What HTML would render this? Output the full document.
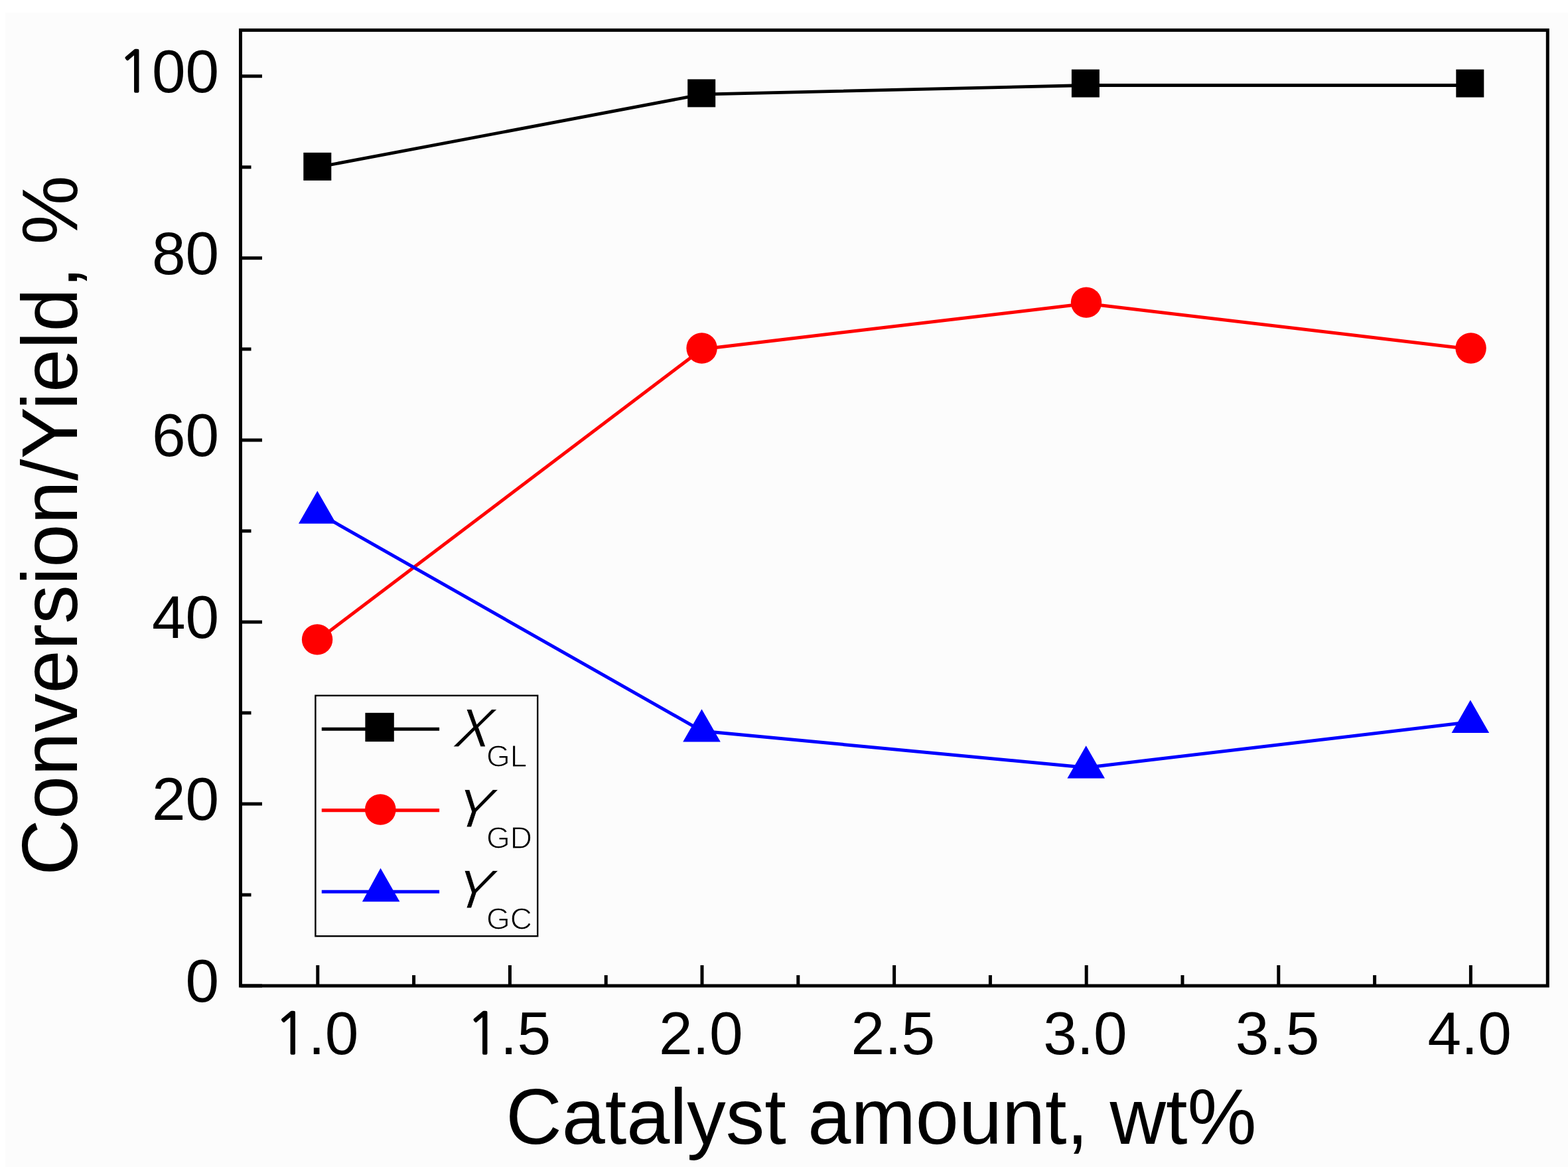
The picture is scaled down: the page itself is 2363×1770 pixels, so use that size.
<!DOCTYPE html>
<html><head><meta charset="utf-8"><title>Conversion/Yield vs Catalyst amount</title>
<style>
html,body{margin:0;padding:0;background:#fff;}
body{width:2363px;height:1770px;overflow:hidden;}
svg{display:block;}
text{font-family:"Liberation Sans",Arial,sans-serif;fill:#000;}
</style></head><body>
<svg width="2363" height="1770" viewBox="0 0 2363 1770">
<rect x="0" y="0" width="2363" height="1770" fill="#fff"/>
<rect x="8" y="19" width="2355" height="1739" fill="#fcfcfc"/>

<polyline points="478.8,251.8 1058.0,142.2 1637.2,128.5 2216.4,128.5" fill="none" stroke="#000" stroke-width="4.8" stroke-linejoin="round"/>
<polyline points="478.8,964.3 1058.0,525.9 1637.2,457.3 2216.4,525.9" fill="none" stroke="#f00" stroke-width="5" stroke-linejoin="round"/>
<polyline points="478.8,772.5 1058.0,1101.3 1637.2,1156.2 2216.4,1087.6" fill="none" stroke="#00f" stroke-width="5" stroke-linejoin="round"/>
<rect x="457.3" y="229.9" width="42" height="42" fill="#000"/>
<rect x="1036.2" y="119.4" width="42" height="42" fill="#000"/>
<rect x="1614.9" y="104.6" width="42" height="42" fill="#000"/>
<rect x="2194.3" y="104.6" width="42" height="42" fill="#000"/>
<circle cx="478.1" cy="963.4" r="23.2" fill="#f00"/>
<circle cx="1057.6" cy="524.5" r="23.2" fill="#f00"/>
<circle cx="1637.0" cy="455.6" r="23.2" fill="#f00"/>
<circle cx="2216.6" cy="524.5" r="23.2" fill="#f00"/>
<polygon points="478.3,739.5 506.6,788.8 450.0,788.8" fill="#00f"/>
<polygon points="1057.5,1068.3 1085.8,1117.6 1029.2,1117.6" fill="#00f"/>
<polygon points="1636.7,1123.2 1665.0,1172.5 1608.4,1172.5" fill="#00f"/>
<polygon points="2215.9,1054.6 2244.2,1103.9 2187.6,1103.9" fill="#00f"/>
<rect x="362.5" y="45.4" width="1969.8" height="1439.6" fill="none" stroke="#000" stroke-width="5"/>
<line x1="362.5" y1="1485.0" x2="395.0" y2="1485.0" stroke="#000" stroke-width="5"/>
<line x1="362.5" y1="1348.0" x2="378.5" y2="1348.0" stroke="#000" stroke-width="5"/>
<line x1="362.5" y1="1211.0" x2="395.0" y2="1211.0" stroke="#000" stroke-width="5"/>
<line x1="362.5" y1="1073.9" x2="378.5" y2="1073.9" stroke="#000" stroke-width="5"/>
<line x1="362.5" y1="936.9" x2="395.0" y2="936.9" stroke="#000" stroke-width="5"/>
<line x1="362.5" y1="799.9" x2="378.5" y2="799.9" stroke="#000" stroke-width="5"/>
<line x1="362.5" y1="662.9" x2="395.0" y2="662.9" stroke="#000" stroke-width="5"/>
<line x1="362.5" y1="525.9" x2="378.5" y2="525.9" stroke="#000" stroke-width="5"/>
<line x1="362.5" y1="388.8" x2="395.0" y2="388.8" stroke="#000" stroke-width="5"/>
<line x1="362.5" y1="251.8" x2="378.5" y2="251.8" stroke="#000" stroke-width="5"/>
<line x1="362.5" y1="114.8" x2="395.0" y2="114.8" stroke="#000" stroke-width="5"/>
<line x1="478.8" y1="1485.0" x2="478.8" y2="1454.0" stroke="#000" stroke-width="5"/>
<line x1="623.6" y1="1485.0" x2="623.6" y2="1469.0" stroke="#000" stroke-width="5"/>
<line x1="768.4" y1="1485.0" x2="768.4" y2="1454.0" stroke="#000" stroke-width="5"/>
<line x1="913.2" y1="1485.0" x2="913.2" y2="1469.0" stroke="#000" stroke-width="5"/>
<line x1="1058.0" y1="1485.0" x2="1058.0" y2="1454.0" stroke="#000" stroke-width="5"/>
<line x1="1202.8" y1="1485.0" x2="1202.8" y2="1469.0" stroke="#000" stroke-width="5"/>
<line x1="1347.6" y1="1485.0" x2="1347.6" y2="1454.0" stroke="#000" stroke-width="5"/>
<line x1="1492.4" y1="1485.0" x2="1492.4" y2="1469.0" stroke="#000" stroke-width="5"/>
<line x1="1637.2" y1="1485.0" x2="1637.2" y2="1454.0" stroke="#000" stroke-width="5"/>
<line x1="1782.0" y1="1485.0" x2="1782.0" y2="1469.0" stroke="#000" stroke-width="5"/>
<line x1="1926.8" y1="1485.0" x2="1926.8" y2="1454.0" stroke="#000" stroke-width="5"/>
<line x1="2071.6" y1="1485.0" x2="2071.6" y2="1469.0" stroke="#000" stroke-width="5"/>
<line x1="2216.4" y1="1485.0" x2="2216.4" y2="1454.0" stroke="#000" stroke-width="5"/>
<text x="279.6" y="1509.4" font-size="91">0</text>
<text x="229.0" y="1235.4" font-size="91">20</text>
<text x="229.0" y="961.3" font-size="91">40</text>
<text x="229.0" y="687.3" font-size="91">60</text>
<text x="229.0" y="413.2" font-size="91">80</text>
<text y="139.2" font-size="91"><tspan x="176.9" font-family="NanumGothic,&quot;Liberation Sans&quot;,sans-serif" font-size="86" stroke="#000" stroke-width="1.5">1</tspan><tspan x="229.0">00</tspan></text>
<text y="1587.5" font-size="91"><tspan x="412.4" font-family="NanumGothic,&quot;Liberation Sans&quot;,sans-serif" font-size="86" stroke="#000" stroke-width="1.5">1</tspan><tspan x="464.5">.0</tspan></text>
<text y="1587.5" font-size="91"><tspan x="702.0" font-family="NanumGothic,&quot;Liberation Sans&quot;,sans-serif" font-size="86" stroke="#000" stroke-width="1.5">1</tspan><tspan x="754.1">.5</tspan></text>
<text x="993.0" y="1587.5" font-size="91">2.0</text>
<text x="1282.6" y="1587.5" font-size="91">2.5</text>
<text x="1572.2" y="1587.5" font-size="91">3.0</text>
<text x="1861.8" y="1587.5" font-size="91">3.5</text>
<text x="2151.4" y="1587.5" font-size="91">4.0</text>
<text transform="translate(0,1723.3) scale(1,1.02) translate(0,-1723.3)" x="762.2" y="1723.3" font-size="117" textLength="1131.4" lengthAdjust="spacing">Catalyst amount, wt%</text>
<text transform="translate(116,1318.75) rotate(-90) scale(1,1.02)" x="0" y="0" font-size="117.1" textLength="1054.4" lengthAdjust="spacing">Conversion/Yield, %</text>
<rect x="475.4" y="1047.8" width="334.8" height="362.4" fill="none" stroke="#000" stroke-width="2.4"/>
<line x1="484.8" y1="1098.2" x2="662.1" y2="1098.2" stroke="#000" stroke-width="5"/>
<rect x="550.4" y="1073.8" width="43.4" height="43.4" fill="#000"/>
<line x1="484.8" y1="1220.6" x2="662.1" y2="1220.6" stroke="#f00" stroke-width="5.2"/>
<circle cx="573.3" cy="1219.5" r="23.3" fill="#f00"/>
<line x1="484.8" y1="1343.2" x2="662.1" y2="1343.2" stroke="#00f" stroke-width="5"/>
<polygon points="573.5,1307.7 602.4,1358.3 545.9,1358.3" fill="#00f"/>
<g transform="translate(0,1068) skewX(-8) translate(0,-1068)"><text x="692.0" y="1124.8" font-size="82" font-style="italic" stroke="#fff" stroke-width="0.9" >X</text></g>
<g transform="translate(0,1190) skewX(-8) translate(0,-1190)"><text x="691.4" y="1246" font-size="82" font-style="italic" stroke="#fff" stroke-width="0.9" >Y</text></g>
<g transform="translate(0,1311) skewX(-8) translate(0,-1311)"><text x="691.4" y="1368" font-size="82" font-style="italic" stroke="#fff" stroke-width="0.9" >Y</text></g>
<text x="732.9" y="1155.3" font-size="46" stroke="#fff" stroke-width="1.1">GL</text>
<text x="732.9" y="1277.8" font-size="46" stroke="#fff" stroke-width="1.1">GD</text>
<text x="732.9" y="1400.2" font-size="46" stroke="#fff" stroke-width="1.1">GC</text>
</svg></body></html>
